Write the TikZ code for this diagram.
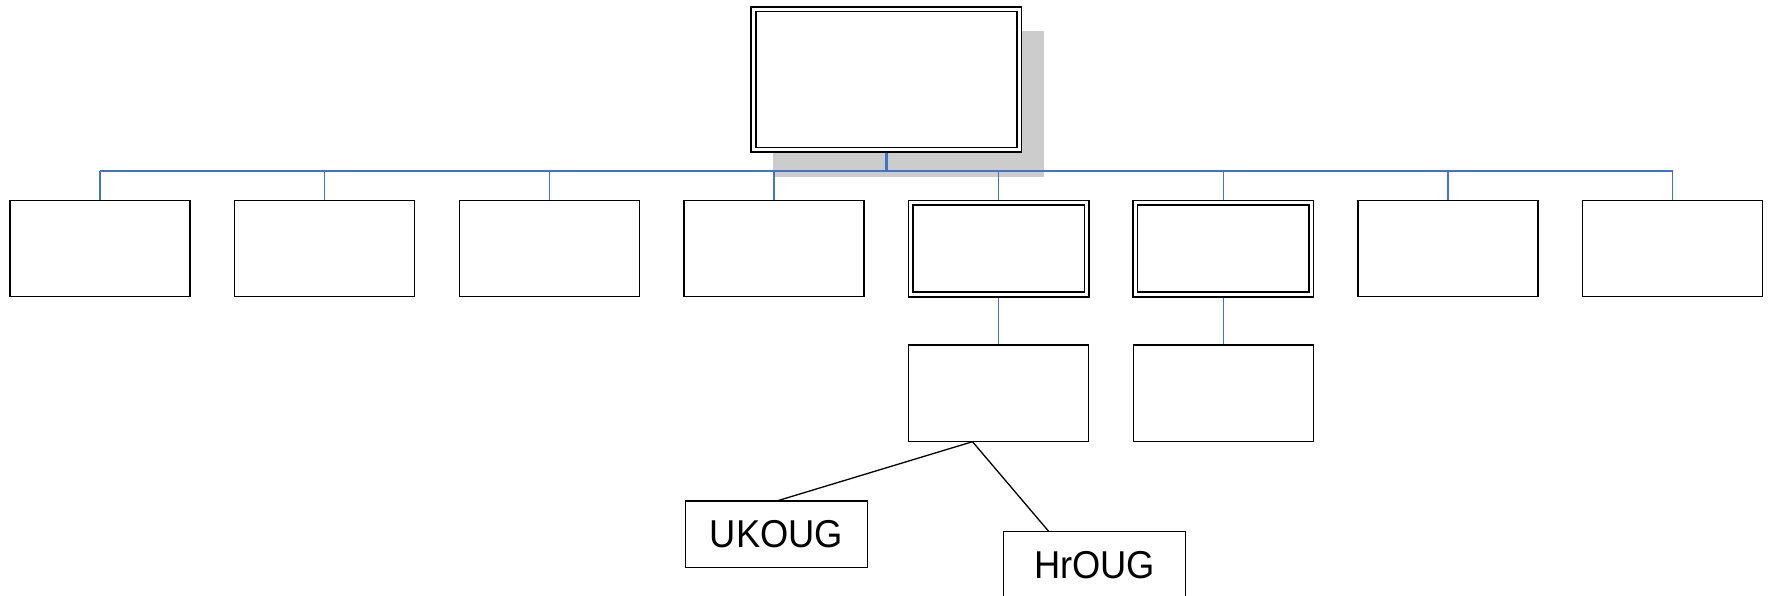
\documentclass[tikz,border=0pt]{standalone}
\usepackage{fontspec}
\setmainfont{Liberation Sans}
\usetikzlibrary{calc,backgrounds}
\definecolor{connblue}{RGB}{68,114,196}
\definecolor{shadowgray}{RGB}{204,204,204}
\begin{document}
\begin{tikzpicture}[x=1pt,y=-1pt,
  box/.style={draw=black, line width=1.3pt, fill=white, rectangle, inner sep=0pt, outer sep=0pt,
              minimum width=180pt, minimum height=96.4pt},
  dbox/.style={draw=black, line width=1.5pt, double=white, double distance=3.2pt, fill=white,
               rectangle, inner sep=0pt, outer sep=0pt, minimum width=176pt, minimum height=91.7pt},
  conn/.style={draw=connblue, line width=1.5pt},
  link/.style={draw=black, line width=1.3pt},
  lbl/.style={box, minimum width=182.3pt, minimum height=66.3pt, font=\fontsize{36.3}{44}\selectfont}]
\useasboundingbox (0,0) rectangle (1771,596);
\clip (0,0) rectangle (1771,596);
% top box
\node[dbox, minimum width=265.8pt, minimum height=140.4pt] (top) at (886.3,79.6) {};
% first row
\node[box]  (b1) at (100,248.5) {};
\node[box]  (b2) at (324.7,248.5) {};
\node[box]  (b3) at (549.4,248.5) {};
\node[box]  (b4) at (774.1,248.5) {};
\node[dbox] (b5) at (998.7,248.65) {};
\node[dbox] (b6) at (1223.3,248.65) {};
\node[box]  (b7) at (1448,248.5) {};
\node[box]  (b8) at (1672.7,248.5) {};
% second row
\node[box, minimum height=96.7pt] (c1) at (998.7,393.35) {};
\node[box, minimum height=96.7pt] (c2) at (1223.3,393.35) {};
% labelled boxes
\node[lbl] (ukoug) at (776.5,534.2) {\scalebox{1}[1.07]{UKOUG}\hspace{4pt}};
\node[lbl] (hroug) at (1094.5,564.9) {\scalebox{1}[1.07]{HrOUG}\hspace{18pt}};
\coordinate (bus) at (886.3,171.3);
\coordinate (apex) at ([xshift=-26.2pt]c1.south);
\begin{scope}[on background layer]
  \fill[shadowgray] ([shift={(20,21.3)}]top.north west) rectangle ([shift={(25.1,26.9)}]top.south east);
  \draw[conn, line width=2.5pt] (top.south) -- (top.south |- bus);
  \draw[conn, line width=1.9pt] (b1.north |- bus) -- (b8.north |- bus);
  \foreach \n in {b1,b2,b3,b4,b5,b6,b7,b8}{
    \draw[conn] (\n.north |- bus) -- (\n.north);
  }
  \draw[conn] (b5.south) -- (c1.north);
  \draw[conn] (b6.south) -- (c2.north);
  \draw[link] (apex) -- (ukoug.north);
  \draw[link] (apex) -- ([xshift=-45.5pt]hroug.north);
\end{scope}
\end{tikzpicture}
\end{document}
